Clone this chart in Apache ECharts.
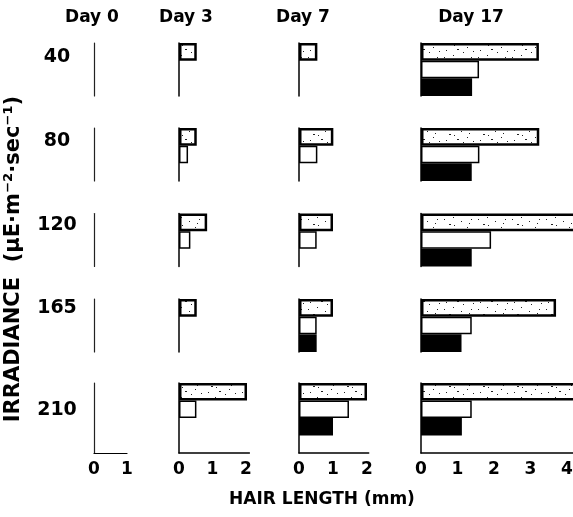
<!DOCTYPE html>
<html>
<head>
<meta charset="UTF-8">
<title>Hair length vs irradiance</title>
<script src="https://cdn.jsdelivr.net/npm/echarts@6/dist/echarts.min.js"></script>
<style>
  body { margin: 0; background: #fff; }
  #chart { width: 573px; height: 517px; }
</style>
</head>
<body>
<div id="chart"></div>
<script>
// 数据
var days = ['Day 0', 'Day 3', 'Day 7', 'Day 17'];
var irradiance = ['40', '80', '120', '165', '210'];

// hair length (mm), one list per day, rows = irradiance
var stippled = [
    [0, 0, 0, 0, 0],
    [0.53, 0.53, 0.84, 0.53, 2.03],
    [0.54, 1.01, 1.0, 1.0, 2.0],
    [3.23, 3.24, 4.3, 3.7, 4.3]
];
var white = [
    [0, 0, 0, 0, 0],
    [0, 0.27, 0.34, 0, 0.52],
    [0, 0.54, 0.52, 0.52, 1.47],
    [1.59, 1.6, 1.92, 1.39, 1.39]
];
var black = [
    [0, 0, 0, 0, 0],
    [0, 0, 0, 0, 0],
    [0, 0, 0, 0.52, 1.0],
    [1.4, 1.39, 1.39, 1.11, 1.12]
];

// 布局
var colLeft = [94, 179, 299, 421];
var unitPx = [33, 33.5, 34, 36.5];
var colMax = [1, 2.1, 2.05, 4.4];
var rowTop = [43, 128, 213.5, 299, 383];
var FONT = '"DejaVu Sans", sans-serif';

// 点状纹理
function makeStipple() {
    var c = document.createElement('canvas');
    c.width = 34; c.height = 18;
    var g = c.getContext('2d');
    g.fillStyle = '#fff';
    g.fillRect(0, 0, 34, 18);
    g.fillStyle = '#222';
    var dots = [[2, 3, 1], [11, 1, 1], [7, 8, 2], [19, 5, 1], [25, 11, 1], [4, 14, 1],
                [15, 13, 2], [29, 3, 1], [31, 15, 1], [21, 16, 1], [12, 9, 1], [27, 7, 1]];
    dots.forEach(function (d) { g.fillRect(d[0], d[1], d[2], d[2] === 2 ? 1 : 1); });
    return c;
}
var stippleFill = { image: makeStipple(), repeat: 'repeat' };

var grids = [], xAxes = [], yAxes = [], series = [];
for (var c = 0; c < days.length; c++) {
    for (var r = 0; r < irradiance.length; r++) {
        var last = r === irradiance.length - 1;
        var idx = grids.length;
        grids.push({
            left: colLeft[c],
            top: rowTop[r],
            width: unitPx[c] * colMax[c],
            height: last ? 70 : 53,
            outerBoundsMode: 'none'
        });
        xAxes.push({
            gridIndex: idx,
            type: 'value',
            min: 0,
            max: colMax[c],
            interval: 1,
            show: last,
            splitLine: { show: false },
            axisTick: { show: false },
            axisLine: { show: true, lineStyle: { color: '#000', width: c === 0 ? 1.2 : 1.5 } },
            axisLabel: {
                show: true,
                margin: 8,
                color: '#000',
                fontFamily: FONT,
                fontWeight: 'bold',
                fontSize: 17,
                formatter: function (v) {
                    return Number.isInteger(v) ? String(v) : '';
                }
            }
        });
        yAxes.push({
            gridIndex: idx,
            type: 'category',
            inverse: true,
            data: last ? ['s', 'w', 'b', ''] : ['s', 'w', 'b'],
            axisTick: { show: false },
            axisLabel: { show: false },
            axisLine: { show: true, lineStyle: { color: c === 0 ? '#222' : '#000', width: c === 0 ? 1.2 : 1.5 } }
        });
        var cellData = [];
        if (c > 0) {
            cellData = [
                { value: stippled[c][r], itemStyle: { color: stippleFill, borderColor: '#000', borderWidth: 2.5 } },
                { value: white[c][r], itemStyle: { color: '#fff', borderColor: '#000', borderWidth: white[c][r] > 0 ? 1.5 : 0 } },
                { value: black[c][r], itemStyle: { color: '#000', borderWidth: 0 } }
            ];
        }
        series.push({
            type: 'bar',
            xAxisIndex: idx,
            yAxisIndex: idx,
            barCategoryGap: '0%',
            clip: false,
            silent: true,
            animation: false,
            data: cellData
        });
    }
}

var texts = [];
var titleX = [92, 186, 303, 471];
days.forEach(function (d, i) {
    texts.push({ type: 'text', x: titleX[i], y: 18,
        style: { text: d, font: 'bold 17px ' + FONT, fill: '#000', textAlign: 'center', textVerticalAlign: 'middle' } });
});
var rowLabelY = [57, 141, 225, 308, 410];
irradiance.forEach(function (t, i) {
    texts.push({ type: 'text', x: 57, y: rowLabelY[i],
        style: { text: t, font: 'bold 19px ' + FONT, fill: '#000', textAlign: 'center', textVerticalAlign: 'middle' } });
});
texts.push({ type: 'text', x: 14, y: 259, rotation: Math.PI / 2,
    style: { text: 'IRRADIANCE  (µE·m⁻²·sec⁻¹)', font: 'bold 21px ' + FONT, fill: '#000', textAlign: 'center', textVerticalAlign: 'middle' } });
texts.push({ type: 'text', x: 322, y: 500,
    style: { text: 'HAIR LENGTH (mm)', font: 'bold 17px ' + FONT, fill: '#000', textAlign: 'center', textVerticalAlign: 'middle' } });

var chart = echarts.init(document.getElementById('chart'));
chart.setOption({
    animation: false,
    backgroundColor: '#fff',
    grid: grids,
    xAxis: xAxes,
    yAxis: yAxes,
    series: series,
    graphic: texts
});
</script>
</body>
</html>
